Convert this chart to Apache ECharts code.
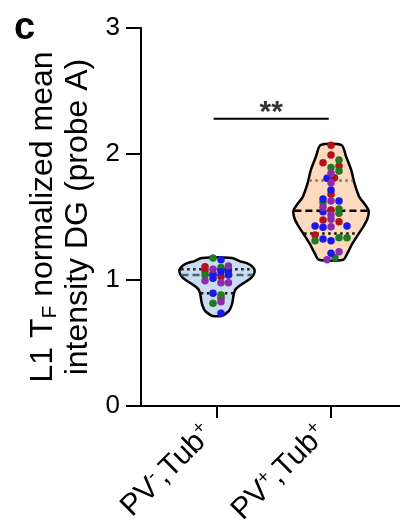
<!DOCTYPE html>
<html><head><meta charset="utf-8">
<script src="https://cdn.jsdelivr.net/npm/echarts@6/dist/echarts.min.js"></script>
<style>html,body{margin:0;padding:0;background:#fff}#c{width:400px;height:529px}</style>
</head><body><div id="c"></div>
<script>
// ---------- data ----------
const categories = ['PV-,Tub+', 'PV+,Tub+'];
const yTicks = [0, 1, 2, 3];

// violin outlines: [value, relative density 0..1]
const density1 = [
  [1.175, 0.40], [1.15, 0.60], [1.13, 0.82], [1.10, 0.96], [1.07, 1.00], [1.04, 0.97],
  [1.01, 0.88], [0.98, 0.73], [0.95, 0.58], [0.92, 0.48], [0.88, 0.44], [0.84, 0.42],
  [0.80, 0.39], [0.76, 0.33], [0.735, 0.24], [0.715, 0.12]
];
const density2 = [
  [2.07, 0.28], [1.98, 0.40], [1.87, 0.54], [1.77, 0.62], [1.66, 0.75], [1.60, 0.90],
  [1.55, 1.00], [1.48, 0.96], [1.42, 0.85], [1.37, 0.74], [1.29, 0.57], [1.21, 0.43], [1.16, 0.32]
];
// quartiles: [q1, median, q3]
const quartiles1 = [0.895, 1.04, 1.085];
const quartiles2 = [1.37, 1.55, 1.79];

// points: [offset within group, value]
const g1Red = [[-0.105, 1.106], [-0.105, 1.074], [0.035, 1.026], [0.035, 0.855]];
const g1Green = [[-0.035, 1.175], [0.035, 1.10], [-0.105, 1.04], [0.035, 0.881], [-0.035, 0.815]];
const g1Blue = [[0.035, 1.160], [0.10, 1.074], [-0.035, 1.048], [0.10, 1.04], [-0.035, 1.013], [0.035, 1.066], [-0.035, 0.894], [0.035, 0.736]];
const g1Purple = [[0.10, 1.111], [-0.035, 1.085], [-0.105, 0.994], [0.035, 0.979], [0.10, 0.979], [0.035, 0.828]];

const g2Red = [[0, 2.07], [0, 1.992], [-0.07, 1.931], [0.07, 1.905], [0.03, 1.812], [0, 1.680], [0, 1.556], [-0.07, 1.476], [0.07, 1.463], [-0.14, 1.357]];
const g2Green = [[0.07, 1.952], [0, 1.892], [0.07, 1.865], [-0.07, 1.614], [0.07, 1.563], [0.07, 1.529], [-0.14, 1.312], [0.07, 1.336], [0.14, 1.336], [0.035, 1.177]];
const g2Blue = [[-0.035, 1.807], [0, 1.714], [-0.07, 1.643], [0.07, 1.627], [-0.07, 1.542], [-0.14, 1.429], [-0.07, 1.418], [0.14, 1.429], [-0.07, 1.325], [0, 1.312], [0, 1.212]];
const g2Purple = [[0, 1.847], [0, 1.772], [0, 1.627], [-0.07, 1.577], [0, 1.516], [0, 1.482], [0, 1.423], [0.07, 1.225], [-0.035, 1.16]];

const sigLevel = 2.28;
const sigText = '**';

// ---------- chart ----------
const FONT = 'Liberation Sans, Arial, Helvetica, sans-serif';
const MAXW = 0.33;
const COLORS = { red: '#b3121b', green: '#1f7a22', blue: '#1a1ae6', purple: '#8a2cae' };

function halfWidth(dens, v) {
  for (let i = 0; i < dens.length - 1; i++) {
    const a = dens[i], b = dens[i + 1];
    if ((v <= a[0] && v >= b[0])) {
      const t = (a[0] - v) / (a[0] - b[0]);
      return (a[1] + (b[1] - a[1]) * t) * MAXW;
    }
  }
  return 0;
}

function violin(idx, dens, fill) {
  return {
    type: 'custom', z: 1, silent: true,
    data: [[idx + 1, dens[0][0]]],
    renderItem(params, api) {
      const c = api.value(0);
      const right = dens.map(d => api.coord([c + d[1] * MAXW, d[0]]));
      const left = dens.slice().reverse().map(d => api.coord([c - d[1] * MAXW, d[0]]));
      return {
        type: 'polygon',
        shape: { points: right.concat(left), smooth: 0.25 },
        style: { fill: fill, stroke: '#000', lineWidth: 2.5, lineJoin: 'round' }
      };
    }
  };
}

function quartileLines(idx, dens, q, colors) {
  const kinds = ['dot', 'dash', 'dot'];
  return {
    type: 'custom', z: 2, silent: true,
    data: q.map((v, i) => [idx + 1, v, i]),
    renderItem(params, api) {
      const c = api.value(0), v = api.value(1), k = api.value(2);
      const hw = halfWidth(dens, v);
      const p1 = api.coord([c - hw, v]), p2 = api.coord([c + hw, v]);
      return {
        type: 'line',
        shape: { x1: p1[0] + 1, y1: p1[1], x2: p2[0] - 1, y2: p2[1] },
        style: {
          stroke: colors[k], lineWidth: 2.5,
          lineDash: kinds[k] === 'dash' ? [7, 4] : [2.5, 3.5]
        }
      };
    }
  };
}

function points(name, color, a, b) {
  return {
    type: 'scatter', name: name, z: 5, silent: true,
    symbolSize: 7.5,
    itemStyle: { color: color, opacity: 1 },
    data: a.map(p => [1 + p[0], p[1]]).concat(b.map(p => [2 + p[0], p[1]]))
  };
}

const chart = echarts.init(document.getElementById('c'), null, { renderer: 'canvas' });
chart.setOption({
  animation: false,
  backgroundColor: '#fff',
  textStyle: { fontFamily: FONT },
  grid: { left: 141, right: 0, top: 28, bottom: 123, containLabel: false, outerBoundsMode: 'none' },
  graphic: [{
    type: 'text', left: 14, top: 10,
    style: { text: 'c', font: 'bold 38px ' + FONT, fill: '#000' }
  }],
  xAxis: {
    type: 'value', min: 0.3333, max: 2.605,
    splitLine: { show: false },
    axisLine: { lineStyle: { color: '#000', width: 2 } },
    axisTick: { customValues: [1, 2], length: 12, lineStyle: { color: '#000', width: 2 } },
    axisLabel: {
      customValues: [1, 2], rotate: 45, margin: 15, color: '#000',
      fontFamily: FONT, fontSize: 30, padding: [0, 12, 0, 0],
      formatter: function (v) {
        const s = categories[Math.round(v) - 1];
        const m = s.match(/^(\w+)([+-]),(\w+)([+-])$/);
        return '{a|' + m[1] + '}{s|' + m[2] + '}{a|,' + m[3] + '}{s|' + m[4] + '}';
      },
      rich: {
        a: { fontSize: 30, lineHeight: 34, fontFamily: FONT, color: '#000' },
        s: { fontSize: 19, lineHeight: 19, verticalAlign: 'top', fontFamily: FONT, color: '#000' }
      }
    }
  },
  yAxis: {
    type: 'value', min: yTicks[0], max: yTicks[yTicks.length - 1], interval: 1,
    splitLine: { show: false },
    axisLine: { show: true, lineStyle: { color: '#000', width: 2 } },
    axisTick: { show: true, length: 15, lineStyle: { color: '#000', width: 2 } },
    axisLabel: { color: '#000', fontSize: 26, fontFamily: FONT, margin: 21 },
    name: '{a|L1 T}{b|F}{a| normalized mean}\n{a|intensity DG (probe A)}',
    nameLocation: 'middle', nameRotate: 90, nameGap: 42,
    nameTextStyle: {
      fontFamily: FONT, color: '#000',
      rich: {
        a: { fontSize: 32, lineHeight: 35, fontFamily: FONT, color: '#000' },
        b: { fontSize: 21, lineHeight: 21, verticalAlign: 'bottom', fontFamily: FONT, color: '#000' }
      }
    }
  },
  series: [
    violin(0, density1, '#c9dcf0'),
    violin(1, density2, '#fdd9bd'),
    quartileLines(0, density1, quartiles1, ['#1a1a1a', '#4f6474', '#1a1a1a']),
    quartileLines(1, density2, quartiles2, ['#111', '#000', '#8c735b']),
    points('red', COLORS.red, g1Red, g2Red),
    points('green', COLORS.green, g1Green, g2Green),
    points('blue', COLORS.blue, g1Blue, g2Blue),
    points('purple', COLORS.purple, g1Purple, g2Purple),
    {
      type: 'line', z: 3, silent: true, symbol: 'none',
      lineStyle: { color: '#000', width: 2 },
      data: [[0.97, sigLevel], [1.98, sigLevel]]
    },
    {
      type: 'scatter', z: 3, silent: true, symbolSize: 0,
      data: [[1.475, sigLevel]],
      label: {
        show: true, position: 'top', distance: -9, formatter: sigText,
        fontSize: 30, fontWeight: 'bold', color: '#000', fontFamily: FONT
      }
    }
  ]
});
</script>
</body></html>
